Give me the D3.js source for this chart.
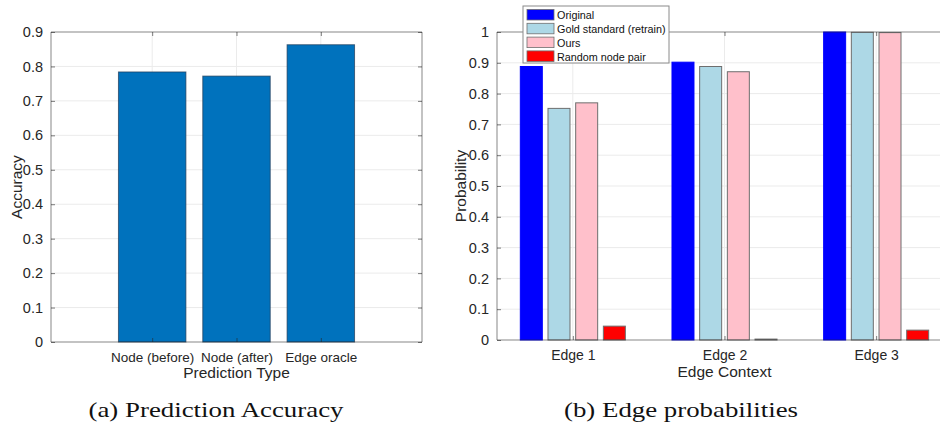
<!DOCTYPE html>
<html>
<head>
<meta charset="utf-8">
<script src="https://cdn.jsdelivr.net/npm/d3@7"></script>
<style>
  body { margin: 0; background: #fff; }
  svg { display: block; }
</style>
</head>
<body>
<svg id="fig" width="940" height="425"></svg>
<script>
// (a) accuracy per prediction type
const predTypes = ["Node (before)", "Node (after)", "Edge oracle"];
const accuracy = [0.784, 0.772, 0.863];
const accTicks = [0, 0.1, 0.2, 0.3, 0.4, 0.5, 0.6, 0.7, 0.8, 0.9];

// (b) edge probabilities
const edges = ["Edge 1", "Edge 2", "Edge 3"];
const seriesNames = ["Original", "Gold standard (retrain)", "Ours", "Random node pair"];
const original = [0.888, 0.902, 1.0];
const goldStd = [0.752, 0.888, 0.999];
const ours = [0.770, 0.871, 0.998];
const randomPair = [0.045, 0.003, 0.032];
const probTicks = [0, 0.1, 0.2, 0.3, 0.4, 0.5, 0.6, 0.7, 0.8, 0.9, 1];

const seriesColors = ["#0000ff", "#add8e6", "#ffc0cb", "#ff0000"];
const axisColor = "#262626";
const gridColor = "#ebebeb";
const font = '"Liberation Sans", Arial, sans-serif';
const serif = '"Liberation Serif", serif';

const svg = d3.select("#fig");

function styleAxis(g, size) {
  g.select(".domain").remove();
  g.selectAll(".tick line").attr("stroke", axisColor).attr("stroke-width", 0.6);
  g.selectAll(".tick text").attr("font-size", size).attr("font-family", font).attr("fill", axisColor);
}

function drawFrame(g, x0, x1, y0, y1) {
  g.append("path")
    .attr("d", `M${x0},${y1}V${y0}H${x1}V${y1}H${x0}`)
    .attr("fill", "none")
    .attr("stroke", axisColor)
    .attr("stroke-opacity", 0.55)
    .attr("stroke-width", 1);
}

// ---------- panel (a) ----------
{
  const left = 51, right = 422, top = 32, bottom = 342;
  const x = d3.scaleLinear().domain([-0.2, 4.2]).range([left, right]);
  const y = d3.scaleLinear().domain([0, 0.9]).range([bottom, top]);
  const g = svg.append("g");

  // grid
  g.append("g").selectAll("line").data(accTicks.slice(1, -1)).join("line")
    .attr("x1", left).attr("x2", right)
    .attr("y1", d => y(d)).attr("y2", d => y(d))
    .attr("stroke", gridColor);
  g.append("g").selectAll("line").data(predTypes).join("line")
    .attr("x1", (d, i) => x(i + 1)).attr("x2", (d, i) => x(i + 1))
    .attr("y1", top).attr("y2", bottom)
    .attr("stroke", gridColor);

  const bw = x(0.8) - x(0);
  g.append("g").selectAll("rect").data(accuracy).join("rect")
    .attr("x", (d, i) => x(i + 1) - bw / 2)
    .attr("width", bw)
    .attr("y", d => y(d))
    .attr("height", d => y(0) - y(d))
    .attr("fill", "#0072bd")
    .attr("stroke", "#1f3b57")
    .attr("stroke-opacity", 0.7)
    .attr("stroke-width", 1);

  const yAxis = g.append("g").attr("transform", `translate(${left},0)`)
    .call(d3.axisLeft(y).tickValues(accTicks).tickSizeInner(-4).tickPadding(8).tickFormat(d3.format("")));
  styleAxis(yAxis, 14.5);
  const yAxisR = g.append("g").attr("transform", `translate(${right},0)`)
    .call(d3.axisRight(y).tickValues(accTicks).tickSizeInner(-4).tickFormat(""));
  styleAxis(yAxisR, 14.5);
  const xAxis = g.append("g").attr("transform", `translate(0,${bottom})`)
    .call(d3.axisBottom(x).tickValues([1, 2, 3]).tickSizeInner(-4).tickPadding(10)
      .tickFormat(d => predTypes[d - 1]));
  styleAxis(xAxis, 13.5);
  const xAxisT = g.append("g").attr("transform", `translate(0,${top})`)
    .call(d3.axisTop(x).tickValues([1, 2, 3]).tickSizeInner(-4).tickFormat(""));
  styleAxis(xAxisT, 13.5);

  drawFrame(g, left, right, top, bottom);

  g.append("text").attr("x", x(2)).attr("y", 378)
    .attr("text-anchor", "middle").attr("font-family", font).attr("font-size", 15.5)
    .attr("fill", axisColor).text("Prediction Type");
  g.append("text").attr("transform", `translate(22,${(top + bottom) / 2}) rotate(-90)`)
    .attr("text-anchor", "middle").attr("font-family", font).attr("font-size", 15.5)
    .attr("fill", axisColor).text("Accuracy");
  g.append("text").attr("x", 216).attr("y", 417)
    .attr("text-anchor", "middle").attr("font-family", serif)
    .attr("font-size", 22).attr("textLength", 255).attr("lengthAdjust", "spacingAndGlyphs")
    .attr("fill", "#111").text("(a) Prediction Accuracy");
}

// ---------- panel (b) ----------
{
  const left = 497, right = 952, top = 32, bottom = 340;
  const x = d3.scaleLinear().domain([0.5, 3.5]).range([left, right]);
  const y = d3.scaleLinear().domain([0, 1]).range([bottom, top]);
  const g = svg.append("g");

  g.append("g").selectAll("line").data(probTicks.slice(1, -1)).join("line")
    .attr("x1", left).attr("x2", right)
    .attr("y1", d => y(d)).attr("y2", d => y(d))
    .attr("stroke", gridColor);
  g.append("g").selectAll("line").data(edges).join("line")
    .attr("x1", (d, i) => x(i + 1)).attr("x2", (d, i) => x(i + 1))
    .attr("y1", top).attr("y2", bottom)
    .attr("stroke", gridColor);

  const series = [original, goldStd, ours, randomPair];
  const step = x(1.1825) - x(1);
  const bw = x(1.145) - x(1);
  series.forEach((vals, s) => {
    g.append("g").selectAll("rect").data(vals).join("rect")
      .attr("x", (d, i) => x(i + 1) + (s - 1.5) * step - bw / 2)
      .attr("width", bw)
      .attr("y", d => y(d))
      .attr("height", d => y(0) - y(d))
      .attr("fill", seriesColors[s])
      .attr("stroke", s === 0 ? "#0000ff" : "#6e6e6e")
      .attr("stroke-width", 1);
  });

  const yAxis = g.append("g").attr("transform", `translate(${left},0)`)
    .call(d3.axisLeft(y).tickValues(probTicks).tickSizeInner(-4).tickPadding(8).tickFormat(d3.format("")));
  styleAxis(yAxis, 14.5);
  const xAxis = g.append("g").attr("transform", `translate(0,${bottom})`)
    .call(d3.axisBottom(x).tickValues([1, 2, 3]).tickSizeInner(-4).tickPadding(10)
      .tickFormat(d => edges[d - 1]));
  styleAxis(xAxis, 14);
  const xAxisT = g.append("g").attr("transform", `translate(0,${top})`)
    .call(d3.axisTop(x).tickValues([1, 2, 3]).tickSizeInner(-4).tickFormat(""));
  styleAxis(xAxisT, 14);

  drawFrame(g, left, right, top, bottom);

  g.append("text").attr("x", x(2)).attr("y", 377)
    .attr("text-anchor", "middle").attr("font-family", font).attr("font-size", 15.5)
    .attr("fill", axisColor).text("Edge Context");
  g.append("text").attr("transform", `translate(466,${(top + bottom) / 2}) rotate(-90)`)
    .attr("text-anchor", "middle").attr("font-family", font).attr("font-size", 15.5)
    .attr("fill", axisColor).text("Probability");
  g.append("text").attr("x", 681).attr("y", 417)
    .attr("text-anchor", "middle").attr("font-family", serif)
    .attr("font-size", 22).attr("textLength", 234).attr("lengthAdjust", "spacingAndGlyphs")
    .attr("fill", "#111").text("(b) Edge probabilities");

  // legend
  const lg = g.append("g").attr("transform", "translate(523,6)");
  lg.append("rect").attr("width", 146).attr("height", 57)
    .attr("fill", "#fff").attr("stroke", "#8a8a8a").attr("stroke-width", 1);
  const rows = lg.selectAll("g.row").data(seriesNames).join("g")
    .attr("class", "row")
    .attr("transform", (d, i) => `translate(4,${3.5 + i * 13.8})`);
  rows.append("rect").attr("width", 27).attr("height", 10.5)
    .attr("fill", (d, i) => seriesColors[i])
    .attr("stroke", "#6e6e6e").attr("stroke-width", 0.8);
  rows.append("text").attr("x", 30).attr("y", 9.6)
    .attr("font-family", font).attr("font-size", 10.8).attr("fill", "#111")
    .text(d => d);
}
</script>
</body>
</html>
